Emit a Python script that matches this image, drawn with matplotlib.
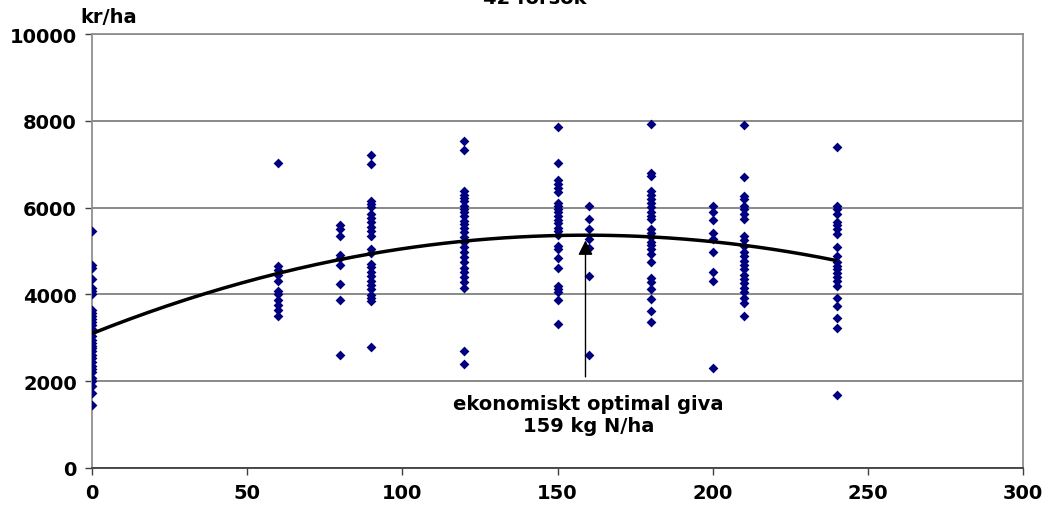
import matplotlib.pyplot as plt
import numpy as np

# ─── data ───────────────────────────────────────────────────────────────────
n_levels = [0, 60, 80, 90, 120, 150, 160, 180, 200, 210, 240]

kr_0 = [5470, 4680, 4600, 4350, 4150, 4080, 4010, 3640, 3570, 3510, 3440, 3370,
        3290, 3200, 3130, 3050, 2960, 2880, 2820, 2760, 2690, 2610, 2530, 2440,
        2360, 2290, 2210, 2070, 2010, 1900, 1730, 1460]
kr_60 = [7030, 4660, 4570, 4450, 4320, 4090, 4000, 3880, 3760, 3650, 3510]
kr_80 = [5600, 5500, 5350, 4900, 4830, 4680, 4240, 3870, 2600]
kr_90 = [7210, 7010, 6160, 6080, 6010, 5850, 5760, 5660, 5560, 5470, 5350, 5050,
         4960, 4700, 4630, 4510, 4420, 4320, 4220, 4120, 3980, 3910, 3850, 2790]
kr_120 = [7530, 7340, 6390, 6300, 6230, 6150, 6040, 5970, 5890, 5810, 5700, 5620,
          5540, 5430, 5320, 5200, 5090, 4970, 4860, 4740, 4620, 4510, 4400, 4280,
          4160, 2700, 2400]
kr_150 = [7870, 7040, 6640, 6540, 6460, 6370, 6120, 6050, 5970, 5890, 5820, 5720,
          5640, 5540, 5470, 5370, 5120, 5050, 4850, 4620, 4200, 4120, 4060, 3880,
          3320]
kr_160 = [6030, 5740, 5500, 5280, 5070, 4420, 2610]
kr_180 = [7940, 6810, 6720, 6390, 6290, 6200, 6110, 6010, 5910, 5820, 5730, 5510,
          5420, 5320, 5220, 5130, 5040, 4940, 4740, 4370, 4280, 4120, 3890, 3620,
          3370]
kr_200 = [6030, 5890, 5720, 5410, 5290, 4970, 4520, 4320, 2310]
kr_210 = [7910, 6710, 6260, 6210, 6050, 5960, 5860, 5750, 5340, 5260, 5120, 4970,
          4880, 4780, 4680, 4590, 4450, 4360, 4260, 4160, 4050, 3930, 3800, 3510]
kr_240 = [7400, 6030, 5970, 5850, 5670, 5600, 5520, 5390, 5090, 4890, 4740, 4660,
          4580, 4490, 4410, 4320, 4190, 3930, 3740, 3450, 3220, 1680]

columns = [kr_0, kr_60, kr_80, kr_90, kr_120, kr_150, kr_160, kr_180, kr_200,
           kr_210, kr_240]

# quadratic response curve  y = a + b*x + c*x^2
curve_a, curve_b, curve_c = 3100.0, 28.5, -0.08958
curve_xmax = 240

opt_n = 159
opt_label = "ekonomiskt optimal giva\n159 kg N/ha"
title_text = "42 försök"

# ─── plot ───────────────────────────────────────────────────────────────────
plt.rcParams['font.family'] = ['DejaVu Sans']
plt.rcParams['font.weight'] = 'bold'
fs = 14

fig = plt.figure(figsize=(10.58, 5.10), dpi=100)
ax = fig.add_axes([0.087, 0.0804, 0.880, 0.8506])

xs = np.concatenate([[n] * len(c) for n, c in zip(n_levels, columns)])
ys = np.concatenate(columns)
ax.scatter(xs, ys, marker='D', s=25, color='#000080', linewidths=0, zorder=3)

xf = np.linspace(0, curve_xmax, 200)
ax.plot(xf, curve_a + curve_b * xf + curve_c * xf**2, color='black', lw=2.5,
        zorder=4, solid_capstyle='butt')

y_opt = curve_a + curve_b * opt_n + curve_c * opt_n**2
ax.annotate('', xy=(opt_n, y_opt - 120), xytext=(opt_n, 2100),
            arrowprops=dict(arrowstyle='-|>', color='black', lw=1,
                            mutation_scale=22, shrinkA=0, shrinkB=0),
            zorder=5)
ax.text(opt_n + 1, 1230, opt_label, ha='center', va='center', fontsize=fs,
        fontweight='bold', linespacing=1.2)

ax.set_xlim(0, 300)
ax.set_ylim(0, 10000)
ax.set_xticks(range(0, 301, 50))
ax.set_yticks(range(0, 10001, 2000))
ax.tick_params(axis='both', direction='out', length=5, width=1, color='#404040',
               labelsize=fs, pad=6)
for lab in ax.get_xticklabels() + ax.get_yticklabels():
    lab.set_fontweight('bold')

ax.grid(axis='y', color='#808080', lw=1.3)
ax.set_axisbelow(True)
for side in ['left', 'right', 'top']:
    ax.spines[side].set_color('#909090')
    ax.spines[side].set_linewidth(1.3)
ax.spines['bottom'].set_color('#404040')
ax.spines['bottom'].set_linewidth(1.3)

fig.text(0.076, 0.965, "kr/ha", fontsize=fs, fontweight='bold',
         ha='left', va='center')
fig.text(0.505, 1.003, title_text, fontsize=fs, fontweight='bold',
         ha='center', va='center')

fig.savefig('out.png', dpi=100)
